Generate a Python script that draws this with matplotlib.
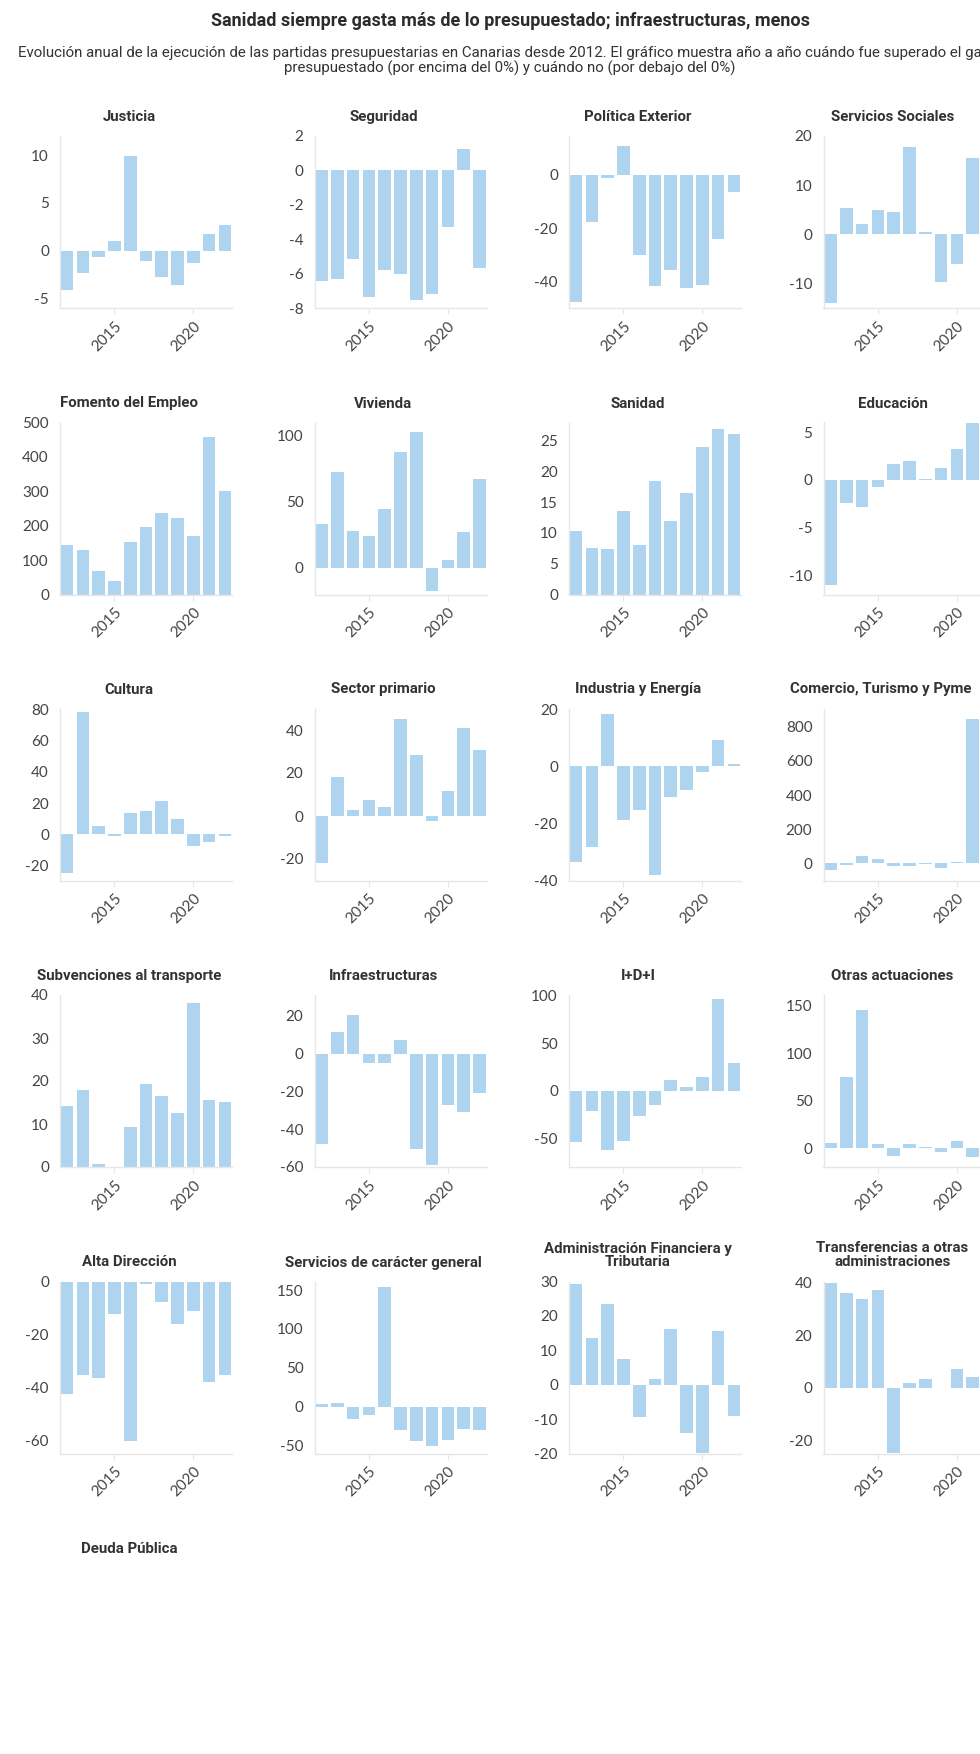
import numpy as np
import matplotlib.pyplot as plt

plt.rcParams['font.family'] = ['Lato', 'DejaVu Sans']
plt.rcParams['axes.unicode_minus'] = False

years = list(range(2012, 2023))

titles = ["Justicia", "Seguridad", "Política Exterior", "Servicios Sociales",
          "Fomento del Empleo", "Vivienda", "Sanidad", "Educación",
          "Cultura", "Sector primario", "Industria y Energía", "Comercio, Turismo y Pyme",
          "Subvenciones al transporte", "Infraestructuras", "I+D+I", "Otras actuaciones",
          "Alta Dirección", "Servicios de carácter general",
          "Administración Financiera y\nTributaria", "Transferencias a otras\nadministraciones",
          "Deuda Pública"]

# % de desviación sobre lo presupuestado, 2012-2022
justicia = [-4.1, -2.3, -0.65, 1.0, 9.9, -1.05, -2.8, -3.6, -1.25, 1.75, 2.65]
seguridad = [-6.45, -6.3, -5.15, -7.35, -5.8, -6.05, -7.55, -7.2, -3.3, 1.25, -5.7]
politica_exterior = [-47.6, -17.6, -1.25, 10.9, -30.1, -41.7, -35.9, -42.5, -41.5, -24.3, -6.5]
servicios_sociales = [-13.9, 5.4, 2.15, 4.95, 4.55, 17.8, 0.45, -9.7, -5.95, 15.6, 8.0]
fomento_empleo = [143, 130, 67, 39, 154, 197, 238, 221, 170, 458, 301]
vivienda = [33.2, 72.6, 27.9, 24.4, 44.6, 87.0, 102.2, -17.5, 6.2, 26.9, 67.3]
sanidad = [10.3, 7.55, 7.4, 13.6, 8.1, 18.4, 11.9, 16.5, 24.0, 26.85, 26.0]
educacion = [-11.0, -2.45, -2.8, -0.8, 1.7, 2.0, 0.05, 1.2, 3.25, 5.9, 4.0]
cultura = [-24.9, 78.3, 5.5, -1.0, 13.9, 15.2, 21.1, 10.1, -7.2, -4.85, -0.85]
sector_primario = [-21.8, 18.1, 2.75, 7.35, 4.15, 45.0, 28.4, -2.15, 11.65, 40.8, 30.85]
industria_energia = [-33.45, -28.3, 18.35, -18.9, -15.2, -38.2, -10.6, -8.4, -1.95, 9.35, 0.9]
comercio_turismo = [-38, -11, 40, 27, -19, -19, -4, -29, 6, 846, 60]
subvenciones_transporte = [14.3, 17.85, 0.7, 0.0, 9.25, 19.3, 16.55, 12.55, 38.2, 15.55, 15.1]
infraestructuras = [-47.9, 11.3, 20.65, -4.85, -4.85, 7.45, -50.5, -58.85, -27.25, -31.1, -20.8]
idi = [-54.0, -21.1, -62.0, -52.3, -26.3, -15.2, 11.8, 4.2, 14.9, 96.7, 29.5]
otras_actuaciones = [4.85, 74.5, 145.9, 4.5, -8.3, 4.15, 1.0, -4.5, 7.6, -9.7, -5.0]
alta_direccion = [-42.5, -35.45, -36.3, -12.4, -60.25, -1.1, -7.9, -16.0, -11.0, -37.85, -35.2]
servicios_generales = [3.0, 4.65, -16.0, -11.0, 153.5, -29.2, -44.4, -49.9, -42.3, -27.9, -30.4]
admin_financiera = [29.4, 13.7, 23.5, 7.6, -9.35, 1.75, 16.1, -13.9, -19.75, 15.5, -9.15]
transferencias = [39.8, 35.95, 33.6, 37.3, -24.7, 1.75, 3.5, -0.25, 7.15, 4.0, 2.0]
deuda_publica = None

series = [justicia, seguridad, politica_exterior, servicios_sociales,
          fomento_empleo, vivienda, sanidad, educacion,
          cultura, sector_primario, industria_energia, comercio_turismo,
          subvenciones_transporte, infraestructuras, idi, otras_actuaciones,
          alta_direccion, servicios_generales, admin_financiera, transferencias,
          deuda_publica]

# y range and ticks of each panel
ylims = [(-6, 12), (-8, 2), (-50, 14.5), (-15, 20),
         (0, 500), (-20, 109.5), (0, 27.9), (-12, 6),
         (-29.5, 80.6), (-30, 50), (-40, 20.2), (-102, 908),
         (0, 40), (-60, 31), (-80, 101), (-20, 161.5),
         (-65, 0), (-60, 161), (-20, 30), (-25, 40.4), None]
yticks = [[-5, 0, 5, 10], [-8, -6, -4, -2, 0, 2], [-40, -20, 0], [-10, 0, 10, 20],
          [0, 100, 200, 300, 400, 500], [0, 50, 100], [0, 5, 10, 15, 20, 25], [-10, -5, 0, 5],
          [-20, 0, 20, 40, 60, 80], [-20, 0, 20, 40], [-40, -20, 0, 20], [0, 200, 400, 600, 800],
          [0, 10, 20, 30, 40], [-60, -40, -20, 0, 20], [-50, 0, 50, 100], [0, 50, 100, 150],
          [-60, -40, -20, 0], [-50, 0, 50, 100, 150], [-20, -10, 0, 10, 20, 30], [-20, 0, 20, 40], None]

W, H = 980, 1754
fig = plt.figure(figsize=(W / 100, H / 100), dpi=100)
col_x = [60, 314.5, 569, 823.5]
row_top = [136, 422.5, 708.5, 995, 1281.5, 1568]
aw, ah = 172, 172
bar_color = '#afd4ef'
line_color = '#e6e6e6'

renderer = fig.canvas.get_renderer()

for i, (name, vals) in enumerate(zip(titles, series)):
    r, c = divmod(i, 4)
    x0, top = col_x[c], row_top[r]
    t = fig.text((x0 + aw / 2 - 17) / W, 1 - (top - 12) / H, name, ha='center', va='bottom',
                 fontsize=10.8, fontweight='bold', color='#333333', family=['Roboto', 'DejaVu Sans'],
                 linespacing=1.0)
    # keep subplot titles inside the figure, as the reference does
    bb = t.get_window_extent(renderer)
    if bb.x1 > W - 8:
        t.set_x((x0 + aw / 2 - 17 - (bb.x1 - (W - 8))) / W)
    if vals is None:
        continue
    ax = fig.add_axes([x0 / W, 1 - (top + ah) / H, aw / W, ah / H])
    ax.bar(years, vals, width=0.8, color=bar_color)
    ax.set_xlim(2011.55, 2022.45)
    ax.set_ylim(*ylims[i])
    ax.set_yticks(yticks[i])
    ax.set_yticklabels([str(t) for t in yticks[i]])
    ax.set_xticks([2015, 2020])
    ax.set_xticklabels(['2015', '2020'])
    for lbl in ax.get_xticklabels():
        lbl.set_rotation(45)
        lbl.set_ha('right')
        lbl.set_rotation_mode('anchor')
    for s in ['top', 'right']:
        ax.spines[s].set_visible(False)
    for s in ['left', 'bottom']:
        ax.spines[s].set_color(line_color)
        ax.spines[s].set_linewidth(1)
    ax.tick_params(axis='x', length=4, color=line_color, pad=4, labelsize=11, labelcolor='#444444')
    ax.tick_params(axis='y', length=0, pad=8, labelsize=11, labelcolor='#444444')
    ax.set_facecolor('white')

fig.text(510 / W, 1 - 21 / H, "Sanidad siempre gasta más de lo presupuestado; infraestructuras, menos",
         ha='center', va='center', fontsize=13, fontweight='bold', color='#2b2b2b',
         family=['Roboto', 'DejaVu Sans'])
fig.text(510 / W, 1 - 61 / H,
         "Evolución anual de la ejecución de las partidas presupuestarias en Canarias desde 2012. "
         "El gráfico muestra año a año cuándo fue superado el gasto\n"
         "presupuestado (por encima del 0%) y cuándo no (por debajo del 0%)",
         ha='center', va='center', fontsize=10.8, color='#333333', linespacing=1.05,
         family=['Roboto', 'DejaVu Sans'])

fig.savefig('out.png', dpi=100, facecolor='white')
